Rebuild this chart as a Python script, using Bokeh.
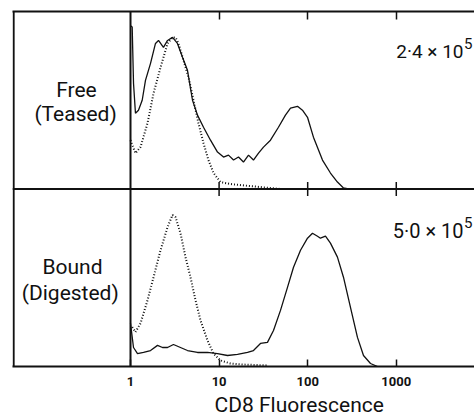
import numpy as np
from bokeh.plotting import figure
from bokeh.models import Range1d, LogAxis, FixedTicker, Span, Label, NumeralTickFormatter, Title
from bokeh.embed import file_html
from bokeh.resources import INLINE

# ---- data (log10 of CD8 fluorescence, relative cell count per panel, 0-100) ----
free_solid_log = [0.0, 0.019, 0.034, 0.056, 0.090, 0.132, 0.169, 0.226, 0.282, 0.316, 0.372,
                  0.418, 0.474, 0.530, 0.587, 0.643, 0.700, 0.756, 0.824, 0.903, 0.982,
                  1.050, 1.106, 1.163, 1.219, 1.275, 1.332, 1.388, 1.445, 1.501, 1.580,
                  1.670, 1.749, 1.806, 1.885, 1.941, 1.998, 2.065, 2.167, 2.257, 2.336,
                  2.404, 2.460, 2.700]
free_solid_cnt = [92.0, 91.2, 59.6, 42.7, 44.4, 50.0, 61.2, 70.8, 82.0, 83.7, 79.8,
                  83.7, 85.4, 82.0, 74.2, 66.9, 50.0, 41.6, 34.8, 27.5, 20.8,
                  18.0, 19.1, 16.3, 18.0, 15.2, 19.1, 16.3, 20.2, 23.6, 27.5,
                  34.8, 41.6, 45.5, 46.6, 44.4, 40.4, 29.2, 16.3, 9.0, 3.9,
                  0.6, 0.0, 0.0]

free_dot_log = [0.0, 0.056, 0.113, 0.192, 0.260, 0.339, 0.418, 0.474, 0.508, 0.542,
                0.598, 0.655, 0.711, 0.767, 0.824, 0.880, 0.937, 1.016, 1.129, 1.242,
                1.467, 1.693]
free_dot_cnt = [27.5, 20.2, 23.6, 37.1, 53.9, 68.5, 82.0, 85.4, 85.4, 82.0,
                72.5, 62.9, 50.0, 37.1, 25.8, 16.3, 9.0, 3.9, 2.8, 2.2,
                1.1, 0.0]

bound_solid_log = [0.0, 0.034, 0.079, 0.147, 0.226, 0.305, 0.361, 0.418, 0.485, 0.564,
                   0.643, 0.756, 0.869, 0.982, 1.095, 1.208, 1.321, 1.388, 1.467, 1.546,
                   1.614, 1.693, 1.772, 1.840, 1.919, 1.998, 2.054, 2.111, 2.144, 2.201,
                   2.257, 2.336, 2.404, 2.483, 2.562, 2.630, 2.709, 2.788]
bound_solid_cnt = [24.3, 10.7, 7.3, 7.9, 9.0, 11.9, 10.7, 10.7, 12.4, 10.7,
                   9.0, 7.9, 7.9, 7.3, 6.2, 6.8, 7.9, 9.0, 13.0, 13.6,
                   20.3, 31.6, 44.6, 55.9, 65.5, 72.3, 75.1, 73.4, 72.3, 73.4,
                   69.5, 61.6, 50.3, 33.3, 16.4, 6.2, 1.7, 0.0]

bound_dot_log = [0.019, 0.056, 0.113, 0.192, 0.260, 0.339, 0.418, 0.474, 0.508, 0.564,
                 0.621, 0.677, 0.734, 0.790, 0.869, 0.937, 1.016, 1.129, 1.275, 1.546]
bound_dot_cnt = [22.2, 19.4, 24.3, 37.3, 50.3, 65.5, 78.5, 85.3, 84.2, 75.1,
                 61.6, 50.3, 37.3, 26.0, 14.7, 7.3, 3.4, 1.7, 1.1, 0.6]

tick_values = [1, 10, 100, 1000]
x_title = "CD8 Fluorescence"
panel_labels_top = ["Free", "(Teased)"]
panel_labels_bottom = ["Bound", "(Digested)"]
cell_counts = ["2·4 × 10", "5·0 × 10"]
exponent = "5"

FONT = "Roboto"
INK = "#111111"

x_lo, x_hi = 10 ** -1.332, 10 ** 3.883

p = figure(frame_width=462, frame_height=355, x_axis_type="log",
           x_range=Range1d(x_lo, x_hi), y_range=Range1d(0, 200),
           y_axis_location=None, output_backend="svg", toolbar_location=None,
           min_border_left=12, min_border_right=0, min_border_top=11, min_border_bottom=0)
p.extra_y_ranges = {"top": Range1d(-100, 100)}
p.grid.visible = False
p.outline_line_color = None
p.background_fill_color = "white"
p.border_fill_color = "white"

# bottom axis
bx = p.below[0]
bx.ticker = FixedTicker(ticks=tick_values)
bx.formatter = NumeralTickFormatter(format="0")
bx.major_tick_in = 7
bx.major_tick_out = 0
bx.minor_tick_in = 0
bx.minor_tick_out = 0
bx.axis_line_width = 2
bx.axis_line_color = INK
bx.major_tick_line_color = INK
bx.major_tick_line_width = 1.5
bx.major_label_standoff = 10
bx.major_label_text_font = FONT
bx.major_label_text_font_size = "13px"
bx.major_label_text_font_style = "bold"
bx.major_label_text_color = INK

# axis title, placed under the data region
p.add_layout(Title(text=x_title, align="left", offset=202, standoff=4,
                   text_font=FONT, text_font_size="21px", text_font_style="normal",
                   text_color=INK), "below")

# top frame line with inward ticks
tx = LogAxis(ticker=FixedTicker(ticks=tick_values[1:]), major_tick_in=8, major_tick_out=0,
             minor_tick_in=0, minor_tick_out=0, axis_line_width=2, axis_line_color=INK,
             major_tick_line_color=INK, major_tick_line_width=1.5,
             major_label_text_font_size="1px", major_label_text_alpha=0,
             major_label_standoff=0)
p.add_layout(tx, "above")

# frame lines
p.add_layout(Span(location=100, dimension="width", line_color=INK, line_width=2))
p.add_layout(Span(location=1, dimension="height", line_color=INK, line_width=2))
p.add_layout(Span(location=x_lo * 1.03, dimension="height", line_color=INK, line_width=2))

# middle crossing ticks
p.segment(x0=tick_values[1:], x1=tick_values[1:], y0=96, y1=104, line_color=INK, line_width=1.5)

# curves
p.line(10 ** np.array(free_solid_log), free_solid_cnt, y_range_name="top",
       line_color=INK, line_width=1.3)
p.line(10 ** np.array(free_dot_log), free_dot_cnt, y_range_name="top",
       line_color=INK, line_width=2, line_dash="1 2")
p.line(10 ** np.array(bound_solid_log), bound_solid_cnt,
       line_color=INK, line_width=1.3)
p.line(10 ** np.array(bound_dot_log), bound_dot_cnt,
       line_color=INK, line_width=2, line_dash="1 2")

def lab(text, x, y, size, align="center", style="normal"):
    p.add_layout(Label(x=x, y=y, text=text, text_font=FONT, text_font_size=size,
                       text_font_style=style,
                       text_align=align, text_baseline="middle", text_color=INK))

lab(panel_labels_top[0], 10 ** -0.61, 155.5, "21px")
lab(panel_labels_top[1], 10 ** -0.62, 142.5, "21px")
lab(panel_labels_bottom[0], 10 ** -0.655, 56.3, "21px")
lab(panel_labels_bottom[1], 10 ** -0.68, 41.3, "21px")
lab(cell_counts[0], 10 ** 3.759, 177.5, "19px", "right")
lab(exponent, 10 ** 3.765, 182.0, "15px", "left")
lab(cell_counts[1], 10 ** 3.759, 76.5, "20px", "right")
lab(exponent, 10 ** 3.765, 81.0, "15px", "left")

open("out.html", "w").write(file_html(p, INLINE))
